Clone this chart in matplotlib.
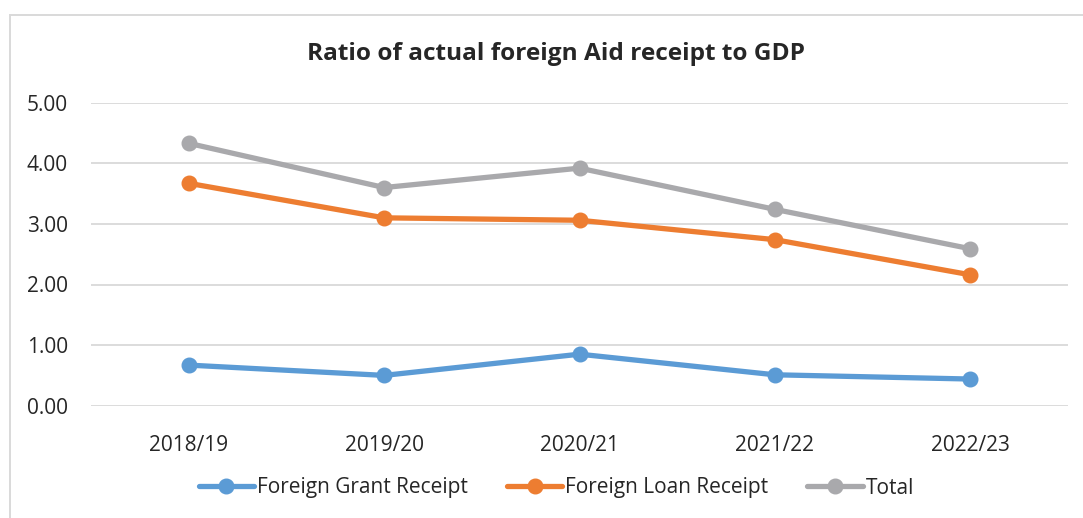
import matplotlib
matplotlib.use("Agg")
import matplotlib.pyplot as plt
from matplotlib.patches import Rectangle

years = ["2018/19", "2019/20", "2020/21", "2021/22", "2022/23"]
grant = [0.67, 0.50, 0.85, 0.51, 0.44]
loan = [3.67, 3.10, 3.06, 2.74, 2.16]
total = [4.33, 3.60, 3.92, 3.24, 2.59]
yticks = [0, 1, 2, 3, 4, 5]

plt.rcParams["font.family"] = ["Open Sans", "DejaVu Sans"]

W, H = 1083, 518
fig = plt.figure(figsize=(W / 100, H / 100), dpi=100)
ax = fig.add_axes([91 / W, 1 - 405.7 / H, (1068 - 91) / W, (405.7 - 102.7) / H])

x = list(range(len(years)))
series = [
    ("Foreign Grant Receipt", grant, "#5B9BD5"),
    ("Foreign Loan Receipt", loan, "#ED7D31"),
    ("Total", total, "#A9A9AC"),
]
for name, vals, col in series:
    ax.plot(x, vals, color=col, lw=3.8, marker="o", ms=10.5, label=name,
            solid_capstyle="round", zorder=3)

ax.set_xlim(-0.5, len(years) - 0.5)
ax.set_ylim(0, 5)
ax.set_yticks(yticks)
ax.set_yticklabels([f"{v:.2f}" for v in yticks])
ax.set_xticks(x)
ax.set_xticklabels(years)
ax.grid(axis="y", color="#D9D9D9", lw=1.3, zorder=0)
ax.tick_params(length=0, labelsize=15, colors="#262626")
ax.tick_params(axis="y", pad=16.5)
ax.tick_params(axis="x", pad=21)
for s in ax.spines.values():
    s.set_visible(False)

fig.text(556 / W, 1 - 54 / H, "Ratio of actual foreign Aid receipt to GDP",
         ha="center", va="center", fontsize=17.6, fontweight="bold", color="#262626")

handles, labels = ax.get_legend_handles_labels()
fig.legend(handles, labels, loc="center", bbox_to_anchor=(556.5 / W, 1 - 488 / H),
           ncol=3, frameon=False, fontsize=15, handlelength=2.65,
           handletextpad=0.15, columnspacing=1.87, labelcolor="#262626",
           borderaxespad=0, borderpad=0)

fig.patches.append(Rectangle((10 / W, -0.05), 1.2, 1 - 15 / H + 0.05,
                             transform=fig.transFigure, fill=False,
                             edgecolor="#D9D9D9", lw=1.4))

fig.savefig("out.png", dpi=100)
